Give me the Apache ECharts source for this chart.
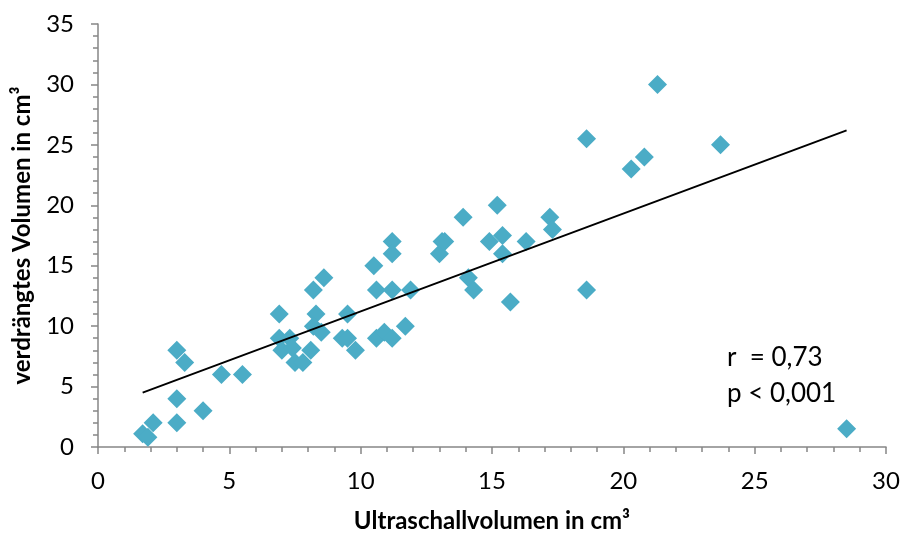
<!DOCTYPE html>
<html>
<head>
<meta charset="utf-8">
<script src="https://cdn.jsdelivr.net/npm/echarts@6/dist/echarts.min.js"></script>
<style>
  html, body { margin: 0; padding: 0; background: #fff; }
  #chart { width: 905px; height: 533px; }
</style>
</head>
<body>
<div id="chart"></div>
<script>
// Ultraschallvolumen (x) vs. verdraengtes Volumen (y)
var usVol = [
  1.7, 1.9, 2.1, 3.0, 3.3, 3.0, 3.0, 4.0, 4.7, 5.5,
  6.9, 6.9, 7.3, 7.0, 7.4, 7.5, 7.8, 8.1, 8.2, 8.3,
  8.2, 8.5, 8.6, 9.5, 9.3, 9.5, 9.8, 10.6, 10.6, 10.9,
  11.2, 11.7, 10.5, 11.2, 11.2, 11.2, 11.9, 13.0, 13.1, 13.2,
  13.9, 14.1, 14.3, 14.9, 15.2, 15.4, 15.4, 15.7, 16.3, 17.2,
  17.3, 18.6, 18.6, 20.3, 20.8, 21.3, 23.7, 28.5
];
var verdVol = [
  1.1, 0.8, 2, 8, 7, 4, 2, 3, 6, 6,
  11, 9, 9, 8, 8.2, 7, 7, 8, 13, 11,
  10, 9.5, 14, 11, 9, 9, 8, 13, 9, 9.5,
  9, 10, 15, 17, 16, 13, 13, 16, 17, 17,
  19, 14, 13, 17, 20, 17.5, 16, 12, 17, 19,
  18, 13, 25.5, 23, 24, 30, 25, 1.5
];
// regression line end points
var trendX = [1.7, 28.5];
var trendY = [4.5, 26.2];
var statLines = ['r  = 0,73', 'p < 0,001'];

var points = usVol.map(function (x, i) { return [x, verdVol[i]]; });
var trend = trendX.map(function (x, i) { return [x, trendY[i]]; });

var chart = echarts.init(document.getElementById('chart'));
var axisGray = '#868686';
var font = 'Lato, "Liberation Sans", sans-serif';

chart.setOption({
  animation: false,
  textStyle: { fontFamily: font },
  grid: { left: 98, right: 19, top: 24, bottom: 86, outerBoundsMode: 'none', containLabel: false },
  xAxis: {
    type: 'value',
    min: 0, max: 30, interval: 5,
    name: 'Ultraschallvolumen in cm³',
    nameLocation: 'middle',
    nameGap: 62,
    nameTextStyle: { fontSize: 24, fontWeight: 'bold', color: '#000', fontFamily: font },
    axisLine: { show: true, lineStyle: { color: axisGray, width: 1.5 } },
    axisTick: { show: true, length: 7, lineStyle: { color: axisGray, width: 1.5 } },
    minorTick: { show: true, splitNumber: 5, length: 5, lineStyle: { color: axisGray, width: 1.5 } },
    axisLabel: { fontSize: 24, color: '#000', margin: 22, fontFamily: font },
    splitLine: { show: false }
  },
  yAxis: {
    type: 'value',
    min: 0, max: 35, interval: 5,
    name: 'verdrängtes Volumen in cm³',
    nameLocation: 'middle',
    nameGap: 64,
    nameTextStyle: { fontSize: 24, fontWeight: 'bold', color: '#000', fontFamily: font },
    axisLine: { show: true, lineStyle: { color: axisGray, width: 1.5 } },
    axisTick: { show: true, length: 7, lineStyle: { color: axisGray, width: 1.5 } },
    minorTick: { show: true, splitNumber: 5, length: 5, lineStyle: { color: axisGray, width: 1.5 } },
    axisLabel: { fontSize: 24, color: '#000', margin: 24, fontFamily: font },
    splitLine: { show: false }
  },
  graphic: [{
    type: 'text',
    left: 727,
    top: 340,
    style: {
      text: statLines.join('\n'),
      font: '26px ' + font,
      fill: '#000',
      lineHeight: 36
    }
  }],
  series: [
    {
      type: 'line',
      data: trend,
      symbol: 'none',
      lineStyle: { color: '#000', width: 2 },
      z: 3
    },
    {
      type: 'scatter',
      data: points,
      symbol: 'diamond',
      symbolSize: [19, 19],
      itemStyle: { color: '#4bacc6', opacity: 1 },
      z: 2
    }
  ]
});
</script>
</body>
</html>
